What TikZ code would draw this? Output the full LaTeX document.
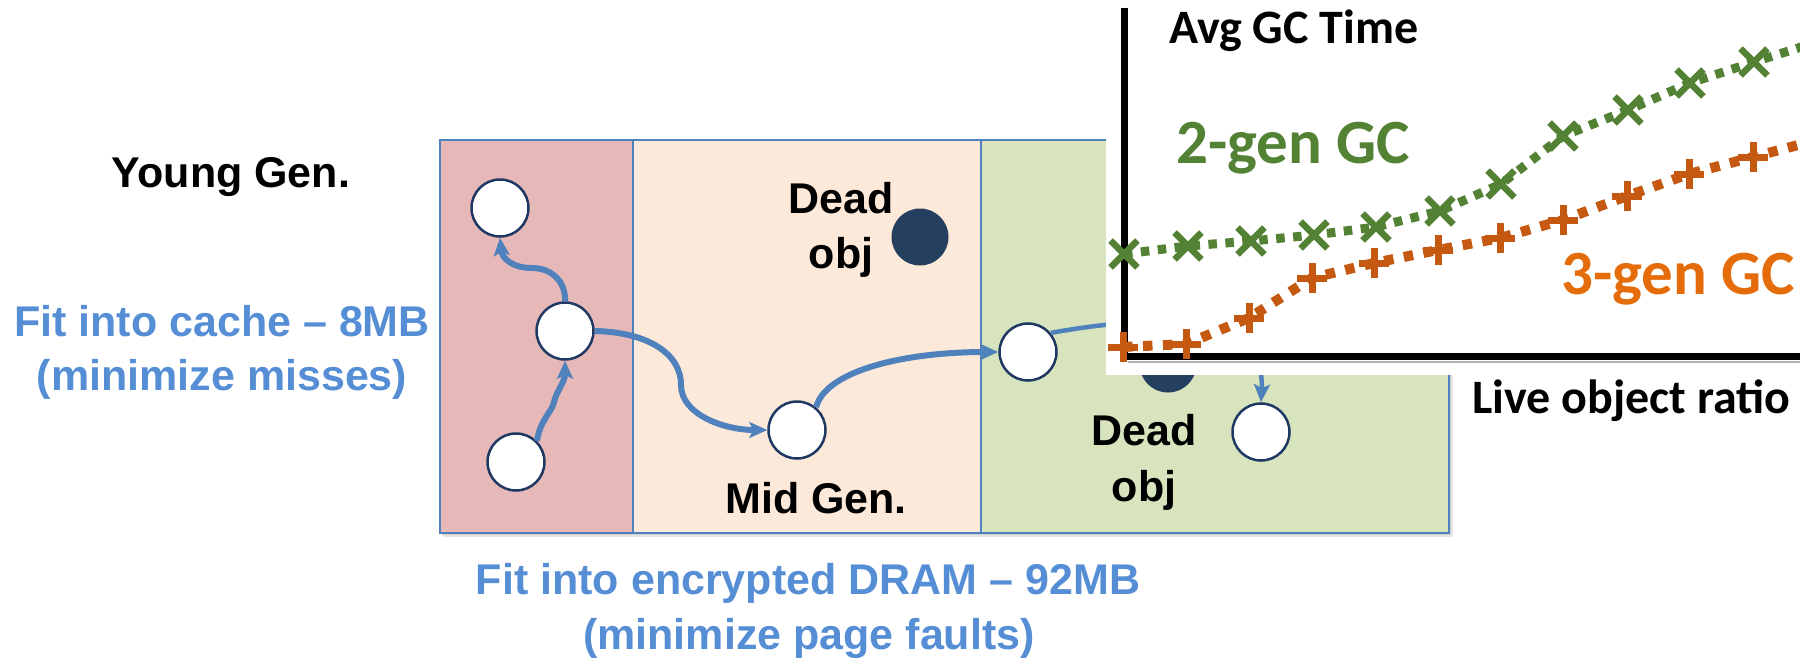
\documentclass[tikz,border=0pt]{standalone}
\usepackage{fontspec}
\setmainfont{Liberation Sans}
\newfontfamily\chartfont{Carlito}
\usetikzlibrary{arrows.meta}

\definecolor{younggen}{HTML}{E6B9B8}
\definecolor{midgen}{HTML}{FDE9D9}
\definecolor{oldgen}{HTML}{D7E4BD}
\definecolor{frameblue}{HTML}{4F81BD}
\definecolor{linkblue}{HTML}{4F81BD}
\definecolor{navy}{HTML}{1F3864}
\definecolor{deadfill}{HTML}{243F60}
\definecolor{noteblue}{HTML}{558ED5}
\definecolor{twogen}{HTML}{548235}
\definecolor{threegen}{HTML}{C65911}
\definecolor{threelabel}{HTML}{E46C0A}

\begin{document}
\begin{tikzpicture}[x=1pt, y=-1pt,
  obj/.style={circle, draw=navy, line width=2.5pt, fill=white, minimum size=57pt, inner sep=0pt},
  deadobj/.style={circle, fill=deadfill, minimum size=57pt, inner sep=0pt},
  link/.style={draw=linkblue, line width=6pt, -{Stealth[length=18pt,width=16pt,inset=4pt]}},
  lbl/.style={font=\bfseries\fontsize{43}{55}\selectfont, inner sep=0pt, anchor=base},
  note/.style={lbl, text=noteblue},
  axisline/.style={line width=7pt, line join=miter},
  charttxt/.style={font=\chartfont\bfseries\fontsize{48}{52}\selectfont, inner sep=0pt, anchor=base west},
  serieslbl/.style={charttxt, font=\chartfont\bfseries\fontsize{63}{70}\selectfont},
  twoline/.style={draw=twogen, line width=9pt, dash pattern=on 8.5pt off 8.5pt, mark size=19pt,
    mark options={solid, line width=6.5pt}},
  threeline/.style={draw=threegen, line width=10pt, dash pattern=on 9.5pt off 10.5pt, mark size=15pt,
    mark options={solid, line width=7pt}}
]
\useasboundingbox (0,0) rectangle (1800,659);
\clip (0,0) rectangle (1800,659);

% heap: three generations with a soft shadow
\fill[black, opacity=0.10] (443,144) rectangle (1453,537);
\fill[black, opacity=0.10] (441,142) rectangle (1451,535);
\fill[younggen] (440,140) rectangle (633,533);
\fill[midgen] (633,140) rectangle (981,533);
\fill[oldgen] (981,140) rectangle (1449,533);
\draw[frameblue, line width=2.2pt] (440,140) rectangle (1449,533)
  (633,140) -- (633,533) (981,140) -- (981,533);

% objects
\node[obj] (ya) at (500,208) {};
\node[obj] (yb) at (565,331) {};
\node[obj] (yc) at (516,462) {};
\node[obj] (ma) at (797,430) {};
\node[deadobj] (md) at (920,237) {};
\node[obj] (oa) at (1028,352) {};
\node[deadobj] (od) at (1168,364) {};
\node[obj] (ob) at (1261,432) {};

% labels
\node[lbl] (young) at (231,187) {Young Gen.};
\node[lbl] (deadm) at (841,213) {Dead};
\node[lbl] (objm) at (841,268) {obj};
\node[lbl] (midgen) at (816,513) {Mid Gen.};
\node[lbl] (deado) at (1144,445) {Dead};
\node[lbl] (objo) at (1144,501) {obj};
\node[note] (cachea) at (222,336) {Fit into cache – 8MB};
\node[note] (cacheb) at (222,390) {(minimize misses)};
\node[note] (drama) at (808,594) {Fit into encrypted DRAM – 92MB};
\node[note] (dramb) at (809,649) {(minimize page faults)};

% references between objects
\draw[link] (yc.45) .. controls (540,420) and (552,412) .. (554,402)
  .. controls (557,390) and (565,382) .. (yb.south);
\draw[link] (yb.north) .. controls (566,282) and (552,268) .. (532,268)
  .. controls (512,268) and (502,258) .. (ya.south);
\draw[link] (yb.east) .. controls (645,332) and (681,352) .. (681,385)
  .. controls (681,415) and (725,430) .. (ma.west);
\draw[link] (ma.50) .. controls (825,372) and (900,352) .. (oa.west);
\draw[link, line width=4.5pt] (oa.40) .. controls (1150,315) and (1266,310) .. (ob.north);

% GC time chart on a white panel
\fill[white] (1106,-5) rectangle (1810,375);
\draw[black!30, line width=2.5pt] (1128,362) -- (1810,362);
\draw[axisline] (1124,8) -- (1124,356) -- (1810,356);

\draw[twoline] plot[mark=x] coordinates {
  (1124,254) (1188,246) (1251,241) (1314,235) (1376,227) (1440,211)
  (1501,184) (1563,136) (1628,110) (1690,83) (1754,62) (1817,42)};
\draw[threeline] plot[mark=+] coordinates {
  (1123,347) (1186,344) (1249,318) (1312,278) (1374,263) (1438,250)
  (1500,238) (1563,220) (1627,196) (1689,174) (1753,157) (1817,140)};

\node[charttxt] (ylabel) at (1169,43) {Avg GC Time};
\node[charttxt] (xlabel) at (1472,413) {Live object ratio};
\node[serieslbl, text=twogen] (twolbl) at (1176,163) {2-gen GC};
\node[serieslbl, text=threelabel] (threelbl) at (1561,294) {3-gen GC};
\end{tikzpicture}
\end{document}
